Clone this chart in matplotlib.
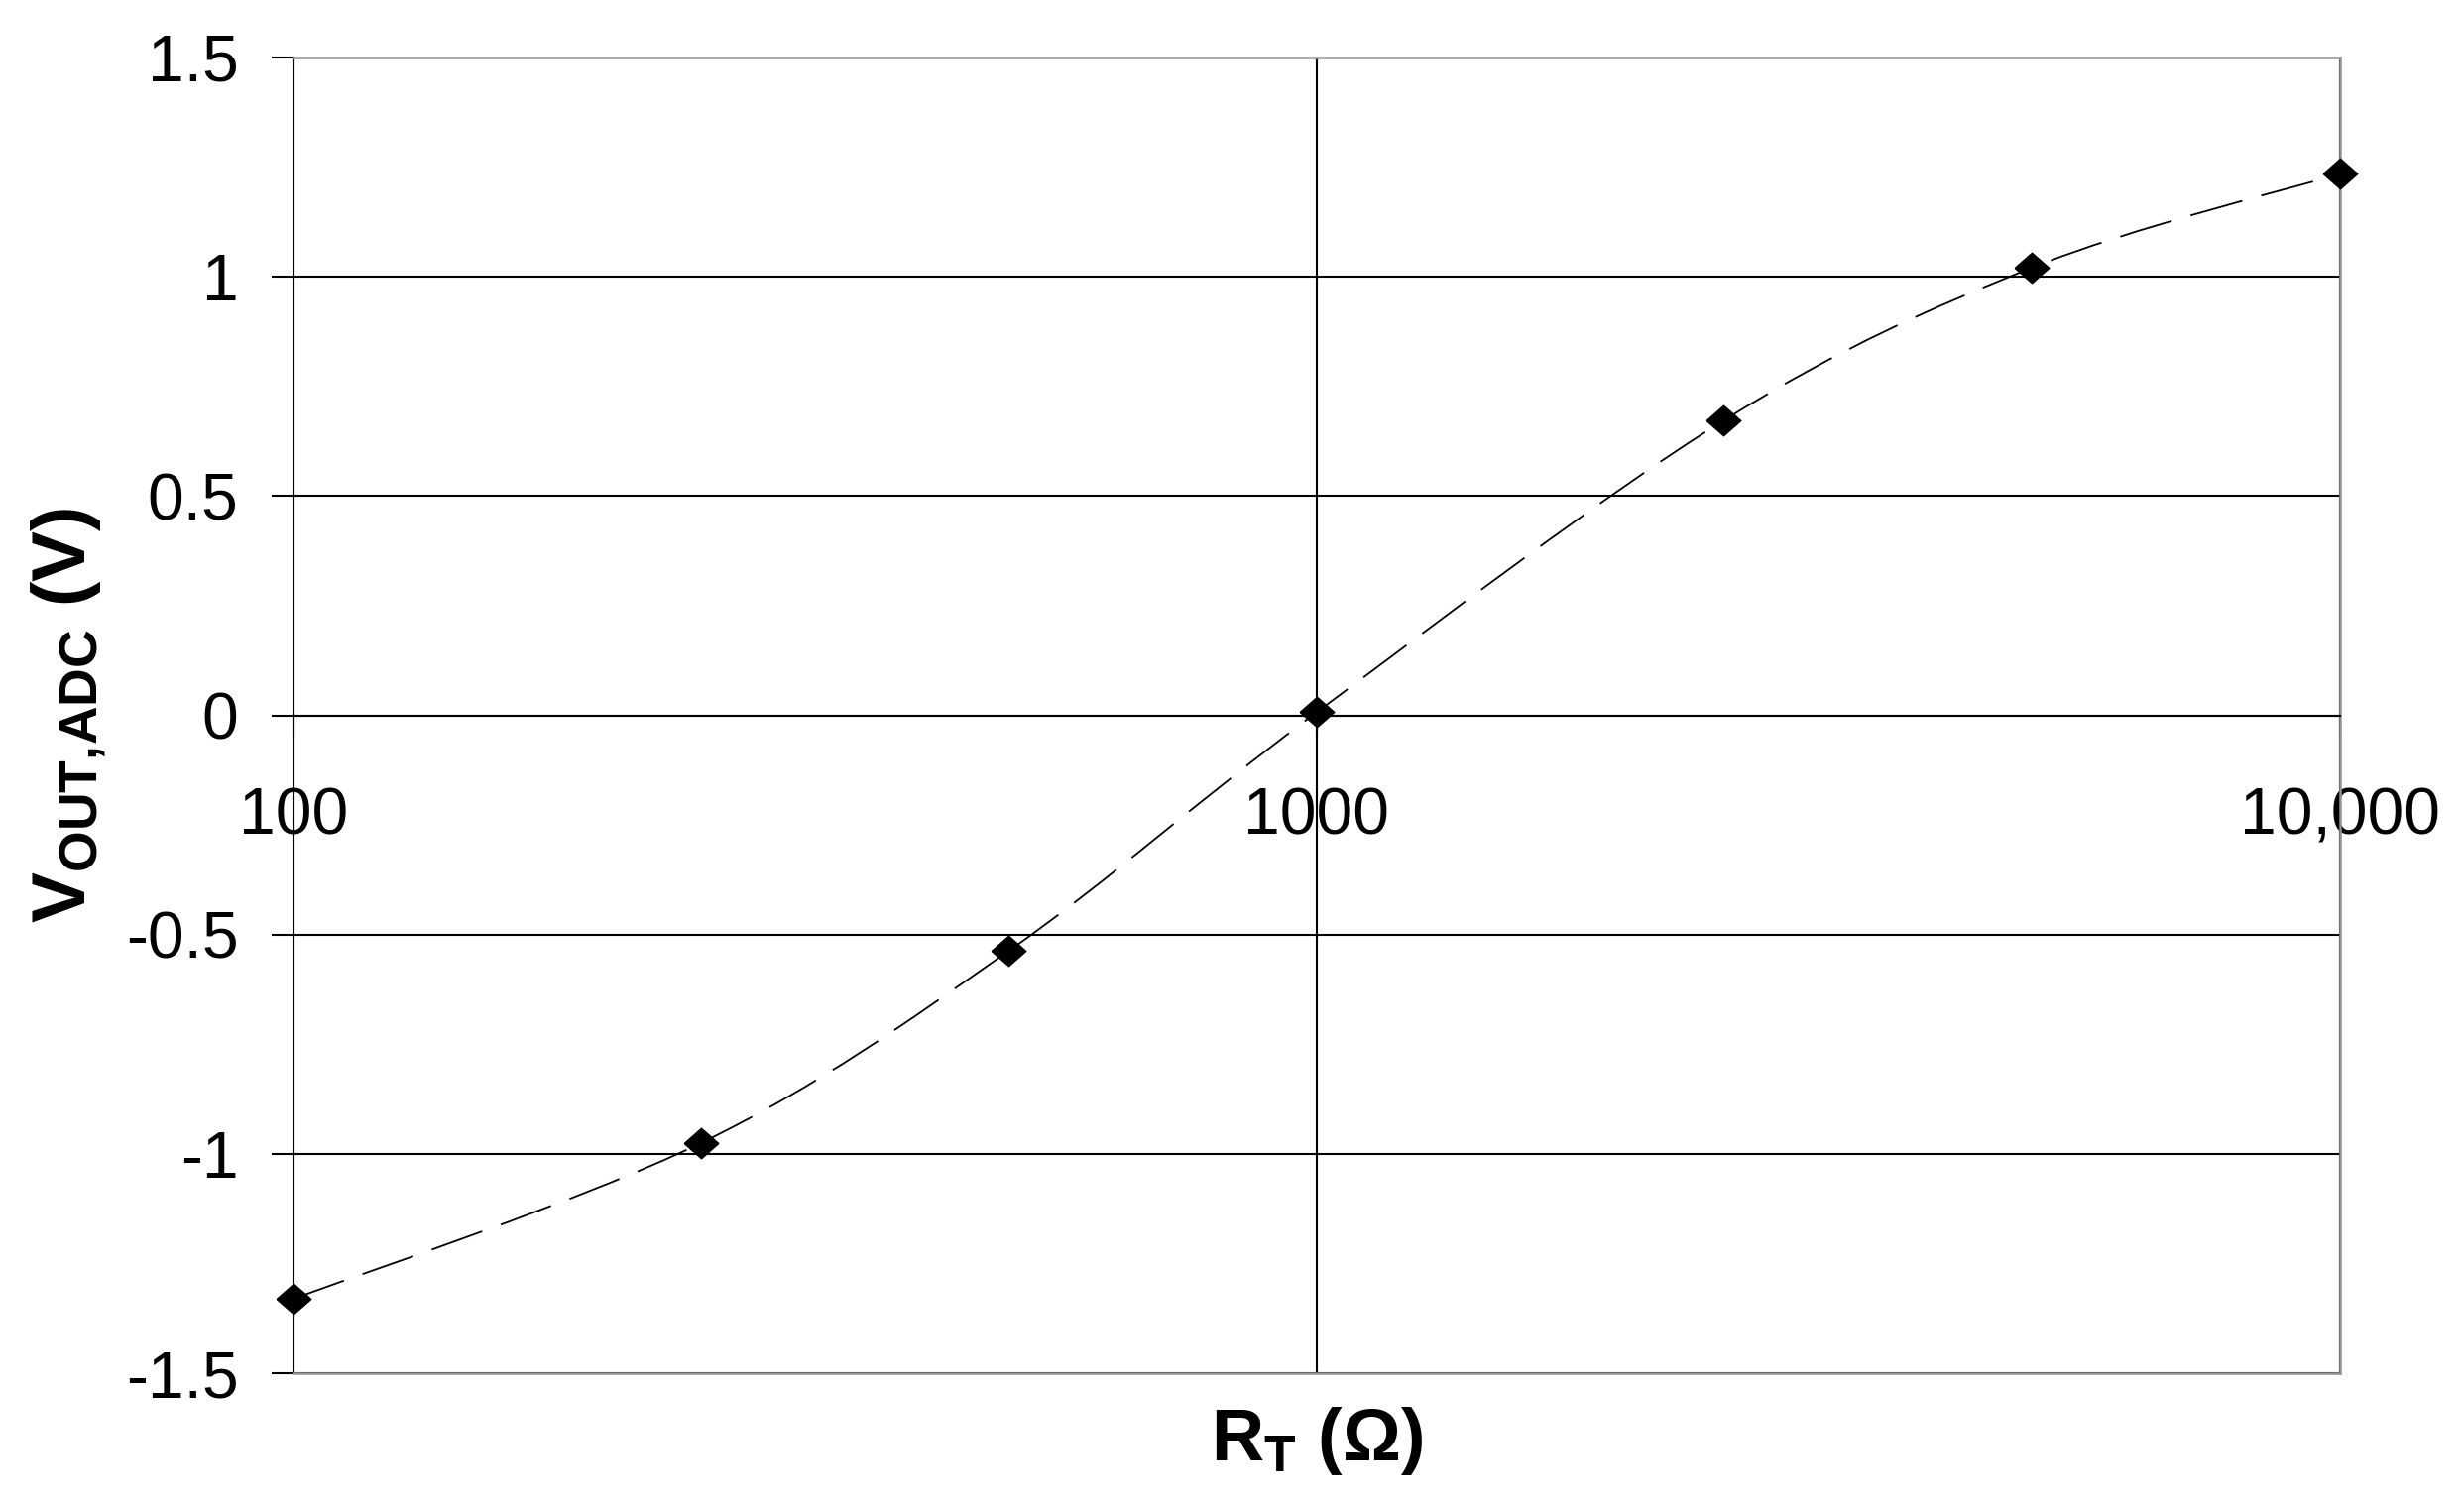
import numpy as np
import matplotlib
matplotlib.use('Agg')
import matplotlib.pyplot as plt
from matplotlib.path import Path
from matplotlib.patches import PathPatch

# Fonts semblants a Arial
plt.rcParams['font.family'] = ['Liberation Sans', 'DejaVu Sans']
plt.rcParams['mathtext.fontset'] = 'custom'
plt.rcParams['mathtext.rm'] = 'Liberation Sans'
plt.rcParams['mathtext.bf'] = 'Liberation Sans:bold'
plt.rcParams['mathtext.it'] = 'Liberation Sans:italic'

# Dades llegides del gràfic
r_t = [100, 250, 500, 1000, 2500, 5000, 10000]
v_out = [-1.33, -0.975, -0.537, 0.007, 0.672, 1.02, 1.234]

x_ticks = [100, 1000, 10000]
x_tick_labels = ['100', '1000', '10,000']
y_ticks = [-1.5, -1, -0.5, 0, 0.5, 1, 1.5]
y_tick_labels = ['-1.5', '-1', '-0.5', '0', '0.5', '1', '1.5']

gris = '#939393'
lw_grid = 1.5

fig = plt.figure(figsize=(24.85, 15.14), dpi=100)
ax = fig.add_axes([0.1191, 0.0849, 0.8304, 0.877])

ax.set_xscale('log')
ax.set_xlim(100, 10000)
ax.set_ylim(-1.5, 1.5)

# Corba suavitzada (tipus Excel) amb Bezier en espai log(x), y
u = np.log10(r_t)
v = np.array(v_out)
pts = np.column_stack([u, v])
verts = [pts[0]]
codes = [Path.MOVETO]
n = len(pts)
for i in range(n - 1):
    p0 = pts[max(i - 1, 0)]
    p1 = pts[i]
    p2 = pts[i + 1]
    p3 = pts[min(i + 2, n - 1)]
    c1 = p1 + (p2 - p0) / 6.0
    c2 = p2 - (p3 - p1) / 6.0
    verts += [c1, c2, p2]
    codes += [Path.CURVE4] * 3
verts = np.array(verts)
verts[:, 0] = 10 ** verts[:, 0]
corba = PathPatch(Path(verts, codes), fill=False, edgecolor='black', lw=1.3,
                  linestyle=(0, (30, 11)), zorder=3, clip_on=False)
ax.add_patch(corba)

# Marcadors en forma de rombe
rombe = [(-1, 0), (0, 0.88), (1, 0), (0, -0.88), (-1, 0)]
ax.plot(r_t, v_out, linestyle='none', marker=rombe, markersize=25,
        color='black', zorder=4, clip_on=False)

# Eixos i graella
ax.set_xticks(x_ticks)
ax.set_xticklabels(x_tick_labels)
ax.xaxis.set_minor_locator(matplotlib.ticker.NullLocator())
ax.set_yticks(y_ticks)
ax.set_yticklabels(y_tick_labels)

ax.grid(True, which='major', color='black', lw=lw_grid)

ax.spines['bottom'].set_position(('data', 0))
ax.spines['bottom'].set_color('black')
ax.spines['bottom'].set_linewidth(lw_grid)
ax.spines['left'].set_color('black')
ax.spines['left'].set_linewidth(lw_grid)
for s in ['top', 'right']:
    ax.spines[s].set_color(gris)
    ax.spines[s].set_linewidth(lw_grid + 0.3)
ax.axhline(-1.5, color=gris, lw=lw_grid + 0.3, zorder=2.6, clip_on=False)

ax.tick_params(axis='both', direction='out', length=16, width=lw_grid,
               color='black', labelsize=47.5)
ax.tick_params(axis='y', pad=24)
ax.tick_params(axis='x', pad=36)

ax.set_xlabel(r'$\mathbf{R_T}$ (Ω)', fontsize=53, fontweight='bold')
ax.xaxis.set_label_coords(0.5, -0.0659)
ax.xaxis.label.set_verticalalignment('baseline')

ax.set_ylabel(r'$\mathbf{V_{OUT,}}\!\mathbf{_{ADC}}$ (V)', fontsize=55, fontweight='bold')
ax.yaxis.set_label_coords(-0.0906, 0.5)

fig.savefig('out.png', dpi=100, facecolor='white')
